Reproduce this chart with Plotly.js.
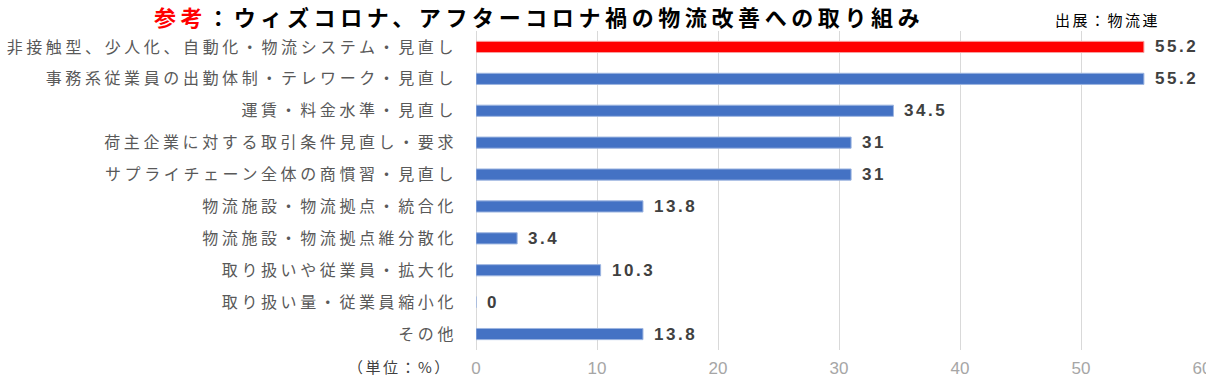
<!DOCTYPE html>
<html>
<head>
<meta charset="utf-8">
<script src="https://cdn.plot.ly/plotly-3.0.1.min.js"></script>
<style>
html,body{margin:0;padding:0;overflow:hidden;background:#fff;}
#chart{width:1206px;height:380px;}
.ytick text{letter-spacing:3.6px;}
.gtitle{letter-spacing:4.6px;}
.annotation-text{letter-spacing:2.5px;}
</style>
</head>
<body>
<div id="chart"></div>
<script>
const categories = [
  "非接触型、少人化、自動化・物流システム・見直し",
  "事務系従業員の出勤体制・テレワーク・見直し",
  "運賃・料金水準・見直し",
  "荷主企業に対する取引条件見直し・要求",
  "サプライチェーン全体の商慣習・見直し",
  "物流施設・物流拠点・統合化",
  "物流施設・物流拠点維分散化",
  "取り扱いや従業員・拡大化",
  "取り扱い量・従業員縮小化",
  "その他"
];
const values = [55.2, 55.2, 34.5, 31, 31, 13.8, 3.4, 10.3, 0, 13.8];
const highlight = [true, false, false, false, false, false, false, false, false, false];
const xTicks = [0, 10, 20, 30, 40, 50, 60];
const titleMain = "ウィズコロナ、アフターコロナ禍の物流改善への取り組み";
const titleLead = "参考";
const sourceText = "出展：物流連";
const unitText = "（単位：%）";

const colors = highlight.map(h => h ? "#FF0000" : "#4472C4");
const lineColors = highlight.map(h => h ? "#F8A0A0" : "#9DB5E0");

const trace = {
  type: "bar",
  orientation: "h",
  x: values,
  y: categories,
  marker: {color: colors, line: {color: lineColors, width: 1}},
  width: 0.35,
  hoverinfo: "none"
};

const valueAnnotations = values.map((v, i) => ({
  x: v, y: categories[i], xref: "x", yref: "y",
  text: String(v), showarrow: false, xanchor: "left", yanchor: "middle",
  xshift: 9,
  font: {family: "Liberation Sans, Arial, sans-serif", size: 17, color: "#404040", weight: "bold"}
}));

// plot area: top 31px, bottom 350px (height 319)
const py = pix => (350 - pix) / 319;
const px = pix => (pix - 476) / 726;

const layout = {
  width: 1206, height: 380,
  margin: {l: 476, r: 4, t: 31, b: 30},
  paper_bgcolor: "#fff", plot_bgcolor: "#fff",
  showlegend: false,
  title: {
    text: '<span style="color:#FF0000">' + titleLead + '</span>：' + titleMain,
    font: {family: "Noto Sans CJK JP, sans-serif", size: 22, color: "#000", weight: "bold"},
    xref: "container", x: 0.447, xanchor: "center",
    yref: "container", y: 0.952, yanchor: "middle"
  },
  xaxis: {
    range: [0, 60],
    tickvals: xTicks,
    ticktext: xTicks.map(String),
    ticklabeloverflow: "allow",
    showgrid: true, gridcolor: "#D9D9D9", gridwidth: 1,
    zeroline: true, zerolinecolor: "#D9D9D9", zerolinewidth: 1,
    showline: false, ticks: "",
    ticklabelstandoff: 6,
    tickfont: {family: "Liberation Sans, Arial, sans-serif", size: 17, color: "#A6A6A6"},
    fixedrange: true
  },
  yaxis: {
    type: "category",
    autorange: "reversed",
    showgrid: false, zeroline: false, showline: false, ticks: "",
    ticklabelstandoff: 18,
    tickfont: {family: "Noto Sans CJK JP, sans-serif", size: 16, color: "#595959"},
    fixedrange: true
  },
  annotations: valueAnnotations.concat([
    {
      xref: "paper", yref: "paper", x: px(1107), y: py(20),
      xanchor: "center", yanchor: "middle", showarrow: false,
      text: sourceText,
      font: {family: "Noto Sans CJK JP, sans-serif", size: 15, color: "#000"}
    },
    {
      xref: "paper", yref: "paper", x: px(400), y: py(366),
      xanchor: "center", yanchor: "middle", showarrow: false,
      text: unitText,
      font: {family: "Noto Sans CJK JP, sans-serif", size: 15, color: "#404040"}
    }
  ])
};

Plotly.newPlot("chart", [trace], layout, {displayModeBar: false, staticPlot: true});
</script>
</body>
</html>
